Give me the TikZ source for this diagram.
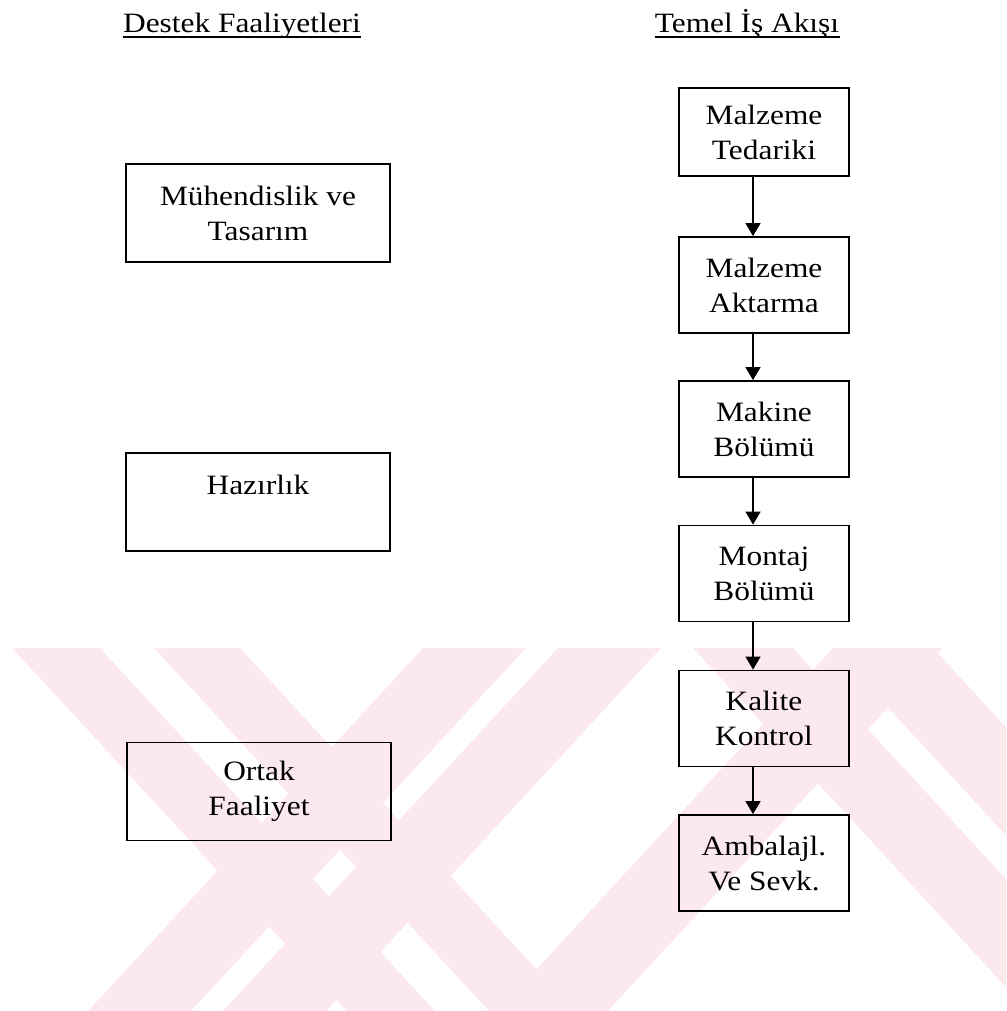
\documentclass[tikz,border=0pt]{standalone}
\usepackage{fontspec}
\setmainfont{Liberation Serif}[FakeStretch=1.12]
\usetikzlibrary{arrows.meta}
\definecolor{wmpink}{RGB}{252,233,237}
\begin{document}
\begin{tikzpicture}[x=0.5pt,y=-0.5pt,
  txt/.style={font=\fontsize{14pt}{17.5pt}\selectfont},
  box/.style={txt, draw, line width=0.9pt, inner sep=0pt, align=center},
  rbox/.style={box, minimum width=85pt, minimum height=48pt},
  lbox/.style={box, minimum width=132pt, minimum height=49pt},
  head/.style={txt, inner sep=0pt, anchor=base},
  uline/.style={line width=0.6pt},
  arr/.style={line width=0.75pt, -{Triangle[width=7.5pt,length=6.5pt]}}]

\useasboundingbox (0,0) rectangle (1006,1011);

% diagonal background bands (horizontal run 335 over the band height 363)
\begin{scope}
  \clip (0,648) rectangle (1006,1011);
  % bands running down to the right
  \foreach \a/\b in {12/100, 154/240, 693/793, 833/933}
    \fill[wmpink] (\a,648) -- (\b,648) -- ({\b+335},1011) -- ({\a+335},1011) -- cycle;
  % bands running down to the left
  \foreach \a/\b in {423/526, 558/661, 833/943}
    \fill[wmpink] (\a,648) -- (\b,648) -- ({\b-335},1011) -- ({\a-335},1011) -- cycle;
\end{scope}

% column headings
\node[head] (h1) at (242,33) {Destek Faaliyetleri};
\node[head] (h2) at (747,33) {Temel İş Akışı};
\draw[uline] ([yshift=-2pt]h1.base west) -- ([yshift=-2pt]h1.base east);
\draw[uline] ([yshift=-2pt]h2.base west) -- ([yshift=-2pt]h2.base east);

% support activities
\node[lbox] (l1) at (258,213)   {Mühendislik ve\\Tasarım};
\node[lbox] (l2) at (258,502)   {Hazırlık\\\mbox{}};
\node[lbox] (l3) at (259,791.5) {Ortak\\Faaliyet};

% main work flow
\node[rbox, minimum height=44pt] (b1) at (764,132) {Malzeme\\Tedariki};
\node[rbox] (b2) at (764,285)   {Malzeme\\Aktarma};
\node[rbox] (b3) at (764,429)   {Makine\\Bölümü};
\node[rbox] (b4) at (764,573.5) {Montaj\\Bölümü};
\node[rbox] (b5) at (764,718.5) {Kalite\\Kontrol};
\node[rbox] (b6) at (764,863)   {Ambalajl.\\Ve Sevk.};

\coordinate (ax) at (753,0);
\foreach \u/\v in {b1/b2, b2/b3, b3/b4, b4/b5, b5/b6}
  \draw[arr] (\u.south -| ax) -- (\v.north -| ax);
\end{tikzpicture}
\end{document}
